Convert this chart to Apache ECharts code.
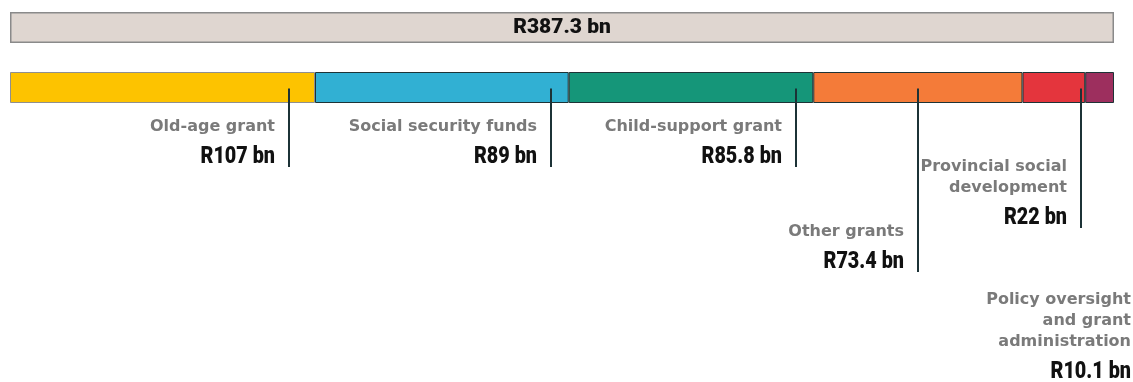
<!DOCTYPE html>
<html>
<head>
<meta charset="utf-8">
<script src="https://cdn.jsdelivr.net/npm/echarts@6/dist/echarts.min.js"></script>
<style>
  html, body { margin: 0; padding: 0; background: #ffffff; }
  #chart { width: 1133px; height: 382px; }
</style>
</head>
<body>
<div id="chart"></div>
<script>
// Social development budget, split by programme (R billion)
const programmes = [
  'Old-age grant',
  'Social security funds',
  'Child-support grant',
  'Other grants',
  'Provincial social\ndevelopment',
  'Policy oversight\nand grant\nadministration'
];
const allocations = [107, 89, 85.8, 73.4, 22, 10.1];
const totalBudget = 387.3;

const segmentColors = ['#fdc300', '#31b0d3', '#159679', '#f47b39', '#e4353d', '#9d2f5e'];
const segmentBorders = ['#8f8f8f', '#1d3336', '#1d3336', '#1d3336', '#1d3336', '#1d3336'];

// Callout placement: how far along each segment the leader leaves it,
// and the vertical centre of the amount line under it.
const callouts = [
  { along: 0.915, amountY: 157 },
  { along: 0.93,  amountY: 157 },
  { along: 0.93,  amountY: 157 },
  { along: 0.5,   amountY: 262 },
  { along: 0.93,  amountY: 218 },
  { along: null,  amountY: 372 }
];

const formatRand = v => 'R' + v + ' bn';
const amountFont = '900 23px Roboto, "DejaVu Sans Condensed", sans-serif';
const amountSquash = 0.86;   // condensed look for the amounts
const nameFont = 'bold 16px "DejaVu Sans", sans-serif';
const leaderColor = '#1c3236';

// running start of each segment along the stacked bar
const starts = [];
allocations.reduce((acc, v, i) => { starts[i] = acc; return acc + v; }, 0);

const chart = echarts.init(document.getElementById('chart'), null, { renderer: 'canvas' });

const axisCommon = { type: 'value', min: 0, max: totalBudget, show: false };
const catCommon = { type: 'category', data: [''], show: false };

const stackSeries = allocations.map((v, i) => ({
  type: 'bar',
  name: programmes[i],
  stack: 'parts',
  xAxisIndex: 1,
  yAxisIndex: 1,
  barWidth: 31,
  data: [v],
  itemStyle: { color: segmentColors[i], borderColor: segmentBorders[i], borderWidth: 1 },
  z: 2
}));

const calloutSeries = {
  type: 'custom',
  coordinateSystem: 'cartesian2d',
  xAxisIndex: 1,
  yAxisIndex: 1,
  clip: false,
  z: 5,
  silent: true,
  data: allocations.map(v => [v, 0]),
  renderItem(params, api) {
    const i = params.dataIndex;
    const c = callouts[i];
    const barY = api.coord([0, 0])[1];
    const children = [];
    let textRight;
    if (c.along !== null) {
      const x = Math.round(api.coord([starts[i] + allocations[i] * c.along, 0])[0]);
      children.push({
        type: 'line',
        shape: { x1: x, y1: barY + 1, x2: x, y2: c.amountY + 10 },
        style: { stroke: leaderColor, lineWidth: 2 }
      });
      textRight = x - 14;
    } else {
      textRight = api.getWidth() - 2;
    }
    children.push({
      type: 'text',
      originX: textRight,
      originY: c.amountY,
      scaleX: amountSquash,
      style: {
        text: formatRand(allocations[i]),
        x: textRight, y: c.amountY,
        align: 'right', verticalAlign: 'middle',
        font: amountFont, fill: '#111111'
      }
    });
    children.push({
      type: 'text',
      style: {
        text: programmes[i],
        x: textRight, y: c.amountY - 19.5,
        align: 'right', verticalAlign: 'bottom',
        lineHeight: 21,
        font: nameFont, fill: '#7a7a7a'
      }
    });
    return { type: 'group', children };
  }
};

chart.setOption({
  animation: false,
  backgroundColor: '#ffffff',
  grid: [
    { left: 10, width: 1104, top: 12, height: 31 },
    { left: 10, width: 1104, top: 72, height: 31 }
  ],
  xAxis: [Object.assign({ gridIndex: 0 }, axisCommon), Object.assign({ gridIndex: 1 }, axisCommon)],
  yAxis: [Object.assign({ gridIndex: 0 }, catCommon), Object.assign({ gridIndex: 1 }, catCommon)],
  series: [
    {
      type: 'bar',
      name: 'Total',
      xAxisIndex: 0,
      yAxisIndex: 0,
      barWidth: 31,
      data: [totalBudget],
      itemStyle: { color: '#dfd6d0', borderColor: '#8a8a8a', borderWidth: 1.5 },
      label: {
        show: true,
        position: 'inside',
        formatter: () => formatRand(totalBudget),
        fontFamily: 'Roboto, "DejaVu Sans Condensed", sans-serif',
        fontWeight: 900,
        fontSize: 21,
        color: '#111111'
      }
    }
  ].concat(stackSeries, [calloutSeries])
});
</script>
</body>
</html>
